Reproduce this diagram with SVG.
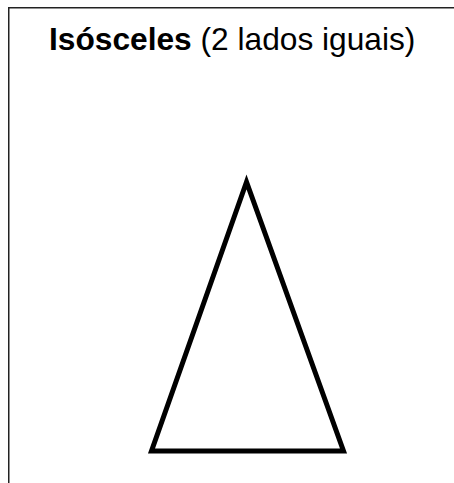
<svg xmlns="http://www.w3.org/2000/svg" width="454" height="483" viewBox="0 0 454 483">
<style>
.frame{fill:none;stroke:#222;stroke-width:1.5}
.tri{fill:#fff;stroke:#000;stroke-width:5;stroke-linejoin:miter;stroke-miterlimit:10}
.title{font-family:"Liberation Sans",Arial,sans-serif;font-size:31.7px;fill:#000}
</style>
<rect width="454" height="483" fill="#fff"/>
<g id="frame"><path class="frame" d="M8.75,483 V7.75 H454"/></g>
<g id="title"><text class="title" x="49" y="50"><tspan font-weight="bold">Isósceles</tspan> (2 lados iguais)</text></g>
<g id="triangle"><polygon class="tri" points="246.5,182 151.5,451 343.5,451"/></g>
</svg>
